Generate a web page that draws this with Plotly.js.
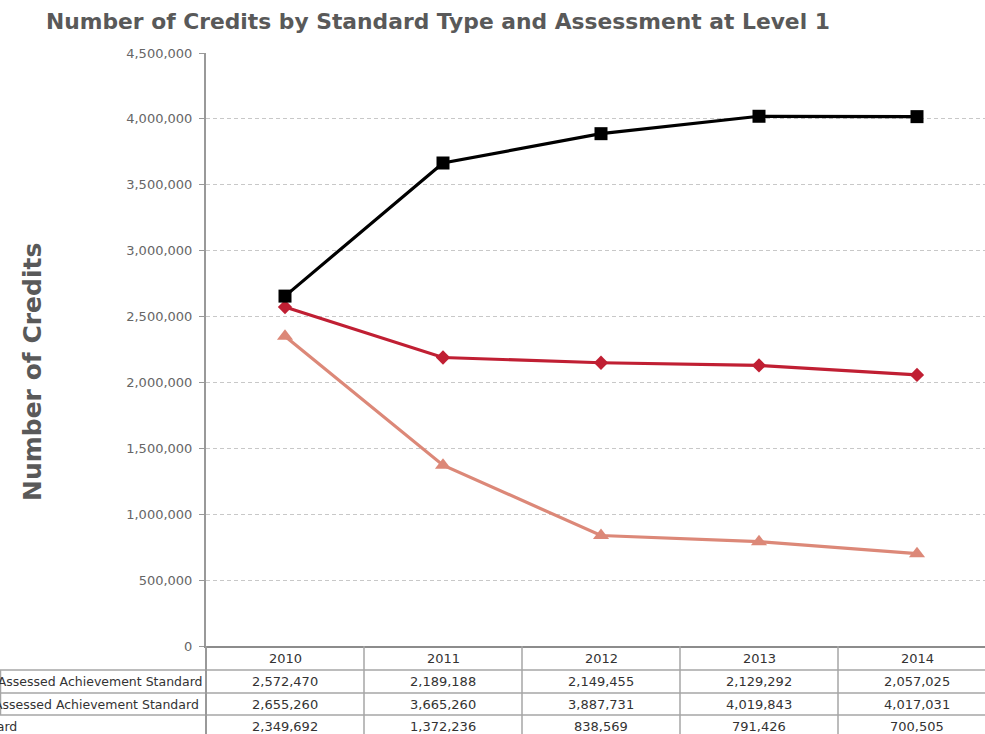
<!DOCTYPE html>
<html>
<head>
<meta charset="utf-8">
<script src="https://cdn.plot.ly/plotly-3.0.1.min.js"></script>
<style>
html,body{margin:0;padding:0;overflow:hidden;background:#fff;}
#chart{width:1000px;height:734px;}
</style>
</head>
<body>
<div id="chart"></div>
<script>
const years = ['2010','2011','2012','2013','2014'];
const seriesNames = ['Externally Assessed Achievement Standard','Internally Assessed Achievement Standard','Unit Standard'];
const externalAS = [2572470, 2189188, 2149455, 2129292, 2057025];
const internalAS = [2655260, 3665260, 3887731, 4019843, 4017031];
const unitStd = [2349692, 1372236, 838569, 791426, 700505];
const seriesValues = [externalAS, internalAS, unitStd];
const seriesColors = ['#c01f33', '#000000', '#dc8878'];
const seriesSymbols = ['diamond', 'square', 'triangle-up'];
const markerSizes = [11, 13, 14];

const FONT = 'DejaVu Sans, Verdana, sans-serif';
const W = 1000, H = 734;
const mL = 206, mT = 53, mB = 88, mR = 4;
const plotH = H - mT - mB, plotW = W - mL - mR;

const traces = seriesValues.map((vals, i) => ({
  type: 'scatter', mode: 'lines+markers', name: seriesNames[i],
  x: years, y: vals,
  line: {color: seriesColors[i], width: 3.2},
  marker: {color: seriesColors[i], symbol: seriesSymbols[i], size: markerSizes[i]},
  cliponaxis: false
}));

// table geometry (pixels -> paper)
const py = p => (H - mB - p) / plotH;
const px = p => (p - mL) / plotW;
const rowCenters = [681.5, 704, 726];
const rowLines = [670, 693, 715];
const tableLine = {color: '#a6a6a6', width: 1.5};

const shapes = [];
rowLines.forEach(yl => shapes.push({type: 'line', xref: 'paper', yref: 'paper',
  x0: px(0), x1: 1, y0: py(yl), y1: py(yl), line: tableLine}));
for (let k = 0; k < years.length - 1; k++) {
  shapes.push({type: 'line', xref: 'x', yref: 'paper', x0: k + 0.5, x1: k + 0.5,
    y0: 0, y1: py(H + 5), line: tableLine});
}
shapes.push({type: 'line', xref: 'paper', yref: 'paper', x0: 0, x1: 0,
  y0: 0, y1: py(H + 5), line: {color: '#999999', width: 2}});
shapes.push({type: 'line', xref: 'paper', yref: 'paper', x0: px(0.5), x1: px(0.5),
  y0: py(670), y1: py(715), line: tableLine});

const cellFont = {family: FONT, size: 13, color: '#333333'};
const annotations = [];
seriesValues.forEach((vals, r) => {
  vals.forEach((v, c) => annotations.push({
    xref: 'x', yref: 'paper', x: c, y: py(rowCenters[r]),
    text: v.toLocaleString('en-US'), showarrow: false,
    xanchor: 'center', yanchor: 'middle', font: cellFont
  }));
  annotations.push({
    xref: 'paper', yref: 'paper', x: px(-71), y: py(rowCenters[r]),
    text: seriesNames[r], showarrow: false, xanchor: 'left', yanchor: 'middle',
    font: {family: FONT, size: 12.5, color: '#333333'}
  });
});
years.forEach((yr, c) => annotations.push({
  xref: 'x', yref: 'paper', x: c, y: py(658.5), text: yr, showarrow: false,
  xanchor: 'center', yanchor: 'middle', font: cellFont
}));
annotations.push({
  xref: 'paper', yref: 'paper', x: px(32), y: py(372), text: 'Number of Credits',
  textangle: -90, showarrow: false, xanchor: 'center', yanchor: 'middle',
  font: {family: FONT, size: 25, color: '#595959', weight: 'bold'}
});

const layout = {
  width: W, height: H,
  margin: {l: mL, r: mR, t: mT, b: mB, pad: 0},
  paper_bgcolor: '#ffffff', plot_bgcolor: '#ffffff',
  showlegend: false,
  title: {text: 'Number of Credits by Standard Type and Assessment at Level 1',
    xref: 'container', x: 46 / W, xanchor: 'left',
    yref: 'container', y: 1 - 21 / H, yanchor: 'middle',
    font: {family: FONT, size: 21.8, color: '#595959', weight: 'bold'}},
  xaxis: {type: 'category', range: [-0.5, 4.5], showticklabels: false, ticks: '',
    showgrid: false, zeroline: false, showline: true, linecolor: '#8c8c8c', linewidth: 2,
    fixedrange: true},
  yaxis: {range: [0, 4500000], dtick: 500000, tickformat: ',', ticks: 'outside',
    ticklen: 5, tickcolor: '#999999', tickwidth: 1, showline: true, linecolor: '#999999', linewidth: 2,
    showgrid: true, gridcolor: '#c8c8c8', gridwidth: 1, griddash: '4px,3px', zeroline: false,
    tickfont: {family: FONT, size: 13, color: '#666666'}, ticklabelstandoff: 4,
    automargin: false, fixedrange: true},
  shapes: shapes,
  annotations: annotations
};

Plotly.newPlot('chart', traces, layout, {displayModeBar: false, staticPlot: true});
</script>
</body>
</html>
